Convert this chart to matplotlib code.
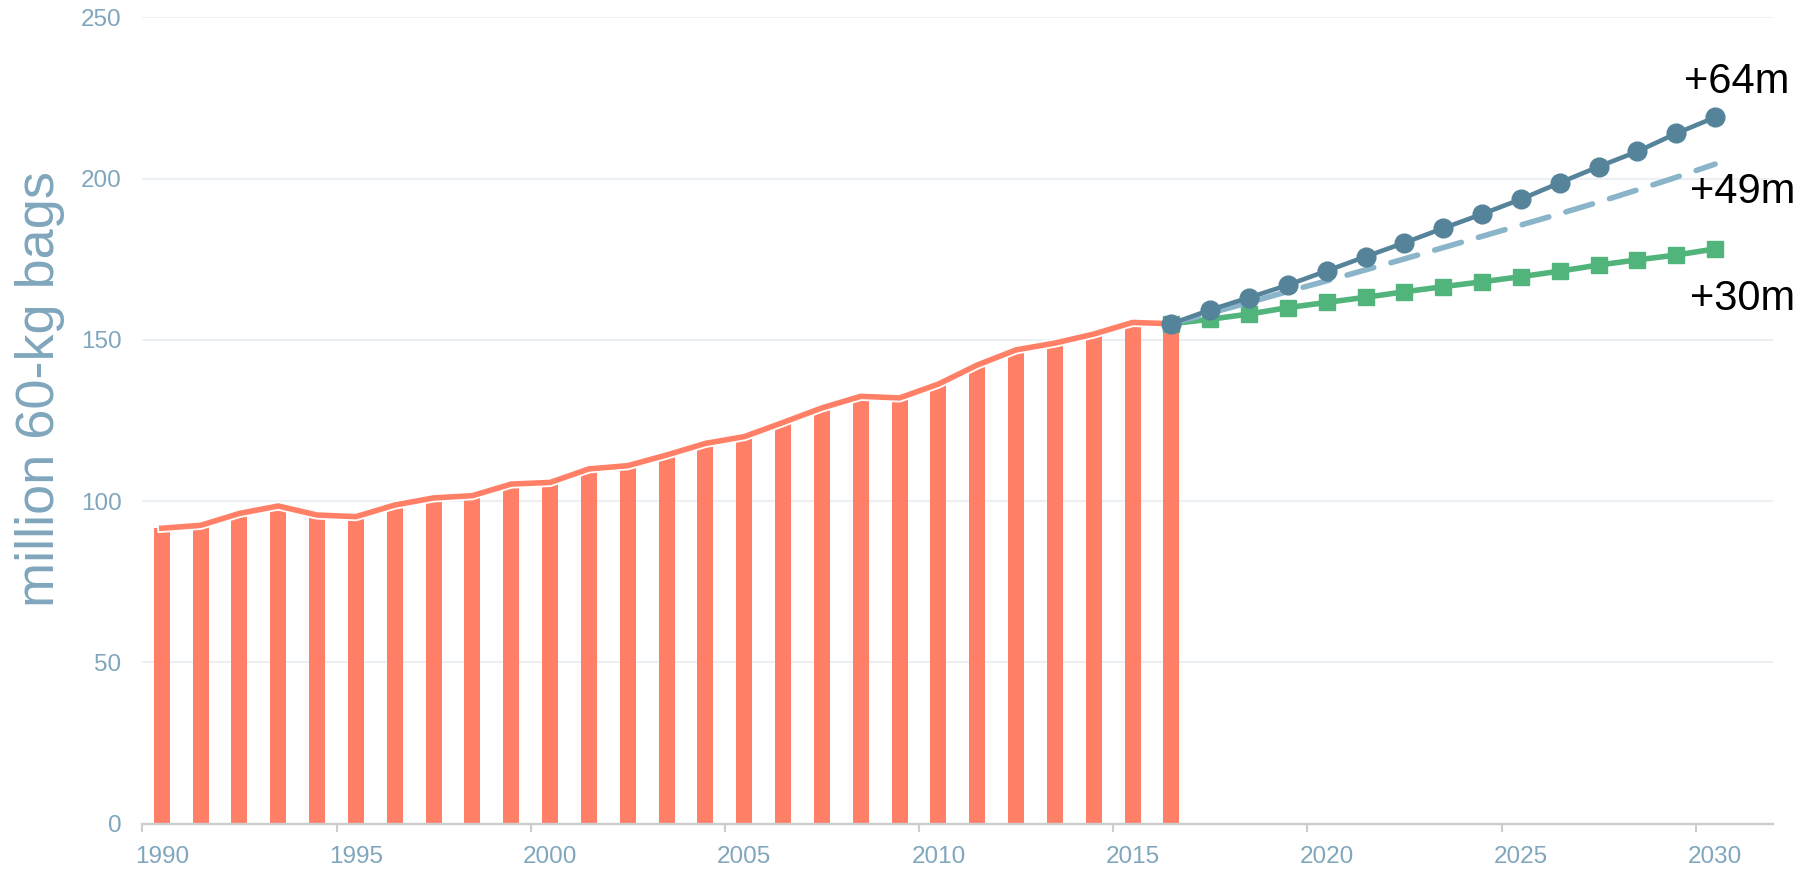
import numpy as np
import matplotlib
matplotlib.use('Agg')
from matplotlib import pyplot as plt
from matplotlib import patheffects as pe

plt.rcParams['font.family'] = ['Liberation Sans', 'DejaVu Sans']

# historical consumption (million 60-kg bags)
years_hist = list(range(1990, 2017))
hist = [91.6, 92.5, 96.2, 98.5, 95.7, 95.2, 98.8, 101.0, 101.7, 105.3,
        105.8, 110.0, 111.0, 114.3, 117.9, 120.0, 124.4, 128.9, 132.5, 132.0,
        136.3, 142.2, 146.9, 149.0, 151.8, 155.4, 155.0]

# projections 2016-2030
years_proj = list(range(2016, 2031))
high = [155.0, 159.3, 163.1, 167.0, 171.4, 175.8, 180.1, 184.6, 189.0, 193.6,
        198.7, 203.7, 208.4, 214.0, 219.0]
mid = [155.0, 158.3, 161.6, 165.0, 168.3, 171.7, 175.1, 178.6, 182.1, 185.6,
       189.1, 192.7, 196.5, 200.4, 204.5]
low = [155.0, 156.4, 158.0, 160.0, 161.6, 163.2, 164.9, 166.5, 168.0, 169.6,
       171.3, 173.2, 174.8, 176.3, 178.2]

labels = ['+64m', '+49m', '+30m']
label_x = [2029.2, 2029.35, 2029.35]
label_y = [229.9, 195.7, 162.7]

salmon = '#ff8066'
blue = '#54839a'
light_blue = '#8ab4c9'
green = '#50b47b'
axis_txt = '#7fa6bc'

fig = plt.figure(figsize=(18.11, 8.69), dpi=100)
ax = fig.add_axes([0.0786, 0.0521, 0.9006, 0.928])

ax.bar(years_hist, hist, width=0.41, color=salmon, zorder=2)
ax.plot(years_hist, hist, color=salmon, lw=4.0, zorder=3,
        path_effects=[pe.Stroke(linewidth=6.6, foreground='white'), pe.Normal()])

ax.plot(years_proj, low, color=green, lw=4.0, marker='s', ms=12, zorder=4)
l, = ax.plot(years_proj, mid, color=light_blue, lw=4.0, zorder=5,
             dash_capstyle='round')
l.set_dashes((5.0, 3.2))
ax.plot(years_proj, high, color=blue, lw=3.3, marker='o', ms=13.5, zorder=6)

for t, x, y in zip(labels, label_x, label_y):
    ax.text(x, y, t, fontsize=30, color='black', ha='left', va='center', zorder=7)

ax.set_xlim(1989.5, 2031.5)
ax.set_ylim(0, 250)

ax.set_xticks(np.arange(1989.5, 2031, 5))
ax.set_xticklabels([])
ax.set_xticks(np.arange(1990, 2031, 5), minor=True)
ax.set_xticklabels([str(y) for y in range(1990, 2031, 5)], minor=True)
ax.tick_params(axis='x', which='major', length=6, width=1.5, color='#cccccc')
ax.tick_params(axis='x', which='minor', length=0, pad=16, labelsize=17.5,
               labelcolor=axis_txt)

ax.set_yticks([0, 50, 100, 150, 200, 250])
ax.tick_params(axis='y', length=0, pad=15, labelsize=17.5, labelcolor=axis_txt)
ax.grid(axis='y', color='#e6edf1', lw=1.2, zorder=0)
ax.set_axisbelow(True)

for s in ['top', 'right', 'left']:
    ax.spines[s].set_visible(False)
ax.spines['bottom'].set_color('#cccccc')
ax.spines['bottom'].set_linewidth(1.7)
ax.spines['bottom'].set_zorder(8)

fig.text(40 / 1811, 1 - 389 / 869, 'million 60-kg bags', rotation=90,
         fontsize=39, color=axis_txt, ha='center', va='center')

fig.savefig('out.png', dpi=100)
